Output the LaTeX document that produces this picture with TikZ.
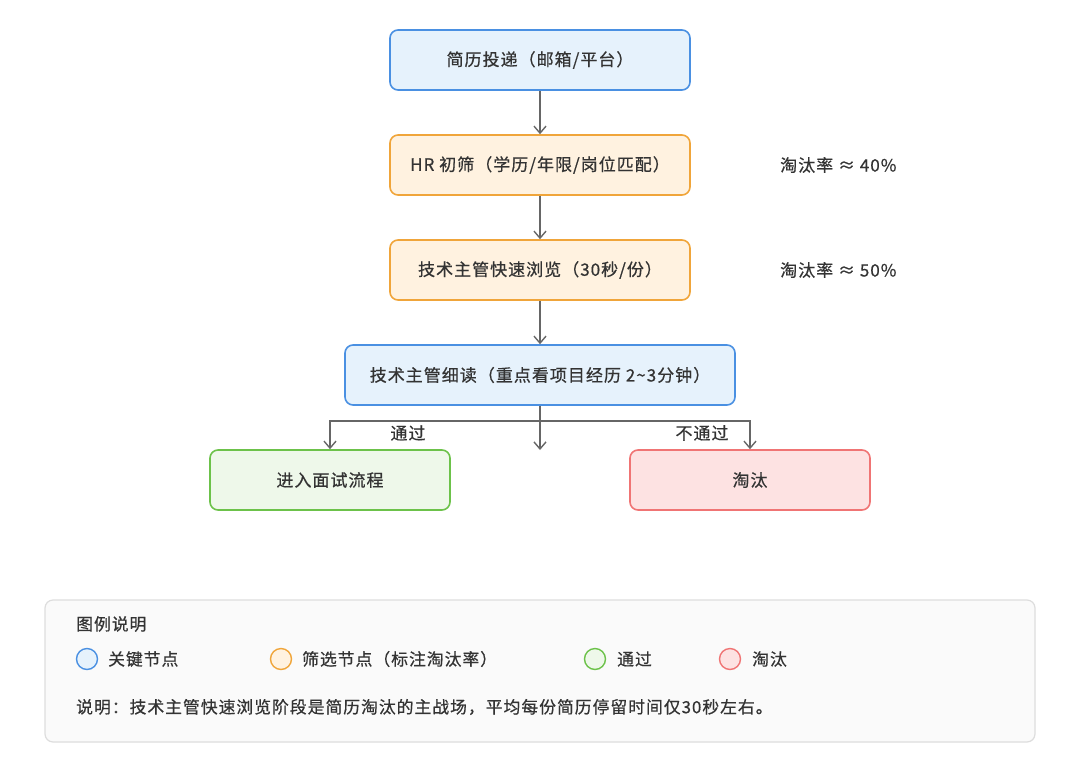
\documentclass[tikz,border=0pt]{standalone}
\usepackage{fontspec}
\setmainfont{Noto Sans CJK SC}[LetterSpace=6,FakeBold=0.6]
\usetikzlibrary{arrows.meta}
\definecolor{txt}{HTML}{333333}
\definecolor{bluefill}{HTML}{E6F2FC}
\definecolor{blueline}{HTML}{4A90E2}
\definecolor{orfill}{HTML}{FFF2E0}
\definecolor{orline}{HTML}{F0A53A}
\definecolor{grfill}{HTML}{EEF8EA}
\definecolor{grline}{HTML}{6CC24A}
\definecolor{rdfill}{HTML}{FDE2E2}
\definecolor{rdline}{HTML}{F07474}
\definecolor{arr}{HTML}{666666}
\definecolor{legfill}{HTML}{FAFAFA}
\definecolor{legline}{HTML}{DDDDDD}
\tikzset{
  box/.style={rounded corners=8pt, line width=1.6pt, minimum height=60pt, font=\fontsize{17pt}{20pt}\selectfont, text=txt, inner sep=0pt},
  keybox/.style={box, draw=blueline, fill=bluefill},
  filterbox/.style={box, draw=orline, fill=orfill},
  passbox/.style={box, draw=grline, fill=grfill},
  failbox/.style={box, draw=rdline, fill=rdfill},
  conn/.style={draw=arr, line width=1.4pt, -{Straight Barb[length=7pt,width=12pt,line width=1.4pt]}},
  lbl/.style={font=\fontsize{17pt}{20pt}\selectfont, text=txt, inner sep=0pt},
  leg/.style={font=\fontsize{16.8pt}{20pt}\selectfont, text=txt, inner sep=0pt, anchor=west},
  dot/.style={circle, minimum size=21pt, inner sep=0pt, line width=1.4pt},
}
\begin{document}
\begin{tikzpicture}[x=1pt,y=-1pt]
\useasboundingbox (0,0) rectangle (1080,780);
\node[keybox, minimum width=300pt] (n1) at (540,60) {简历投递（邮箱/平台）};
\node[filterbox, minimum width=300pt] (n2) at (540,165) {HR 初筛（学历/年限/岗位匹配）};
\node[filterbox, minimum width=300pt] (n3) at (540,270) {技术主管快速浏览（30秒/份）};
\node[keybox, minimum width=390pt] (n4) at (540,375) {技术主管细读（重点看项目经历 2\textasciitilde3分钟）};
\node[passbox, minimum width=240pt] (pass) at (330,480) {进入面试流程};
\node[failbox, minimum width=240pt] (fail) at (750,480) {淘汰};
\node[lbl, anchor=west] (r1) at (780,165) {淘汰率 ≈ 40\%};
\node[lbl, anchor=west] (r2) at (780,270) {淘汰率 ≈ 50\%};
\coordinate (mid) at (540,450);
\draw[conn] (n1) -- (n2);
\draw[conn] (n2) -- (n3);
\draw[conn] (n3) -- (n4);
\draw[conn] (n4.south) -- ++(0,15) -| (pass.north);
\draw[conn] (n4.south) -- ++(0,15) -| (fail.north);
\draw[conn] (n4.south) -- (mid);
\node[lbl] (lp) at (408,433) {通过};
\node[lbl] (lf) at (702,433) {不通过};
% legend
\node[draw=legline, fill=legfill, line width=1.2pt, rounded corners=8pt, minimum width=990pt, minimum height=142pt, inner sep=0pt] (legend) at (540,671) {};
\node[leg] (lt) at (76,624) {图例说明};
\node[dot, draw=blueline, fill=bluefill] (c1) at (87,659) {};
\node[leg] (l1) at (108,659) {关键节点};
\node[dot, draw=orline, fill=orfill] (c2) at (281,659) {};
\node[leg] (l2) at (302,659) {筛选节点（标注淘汰率）};
\node[dot, draw=grline, fill=grfill] (c3) at (595,659) {};
\node[leg] (l3) at (617,659) {通过};
\node[dot, draw=rdline, fill=rdfill] (c4) at (730,659) {};
\node[leg] (l4) at (752,659) {淘汰};
\node[leg] (desc) at (76,707) {说明：技术主管快速浏览阶段是简历淘汰的主战场，平均每份简历停留时间仅30秒左右。};
\end{tikzpicture}
\end{document}
